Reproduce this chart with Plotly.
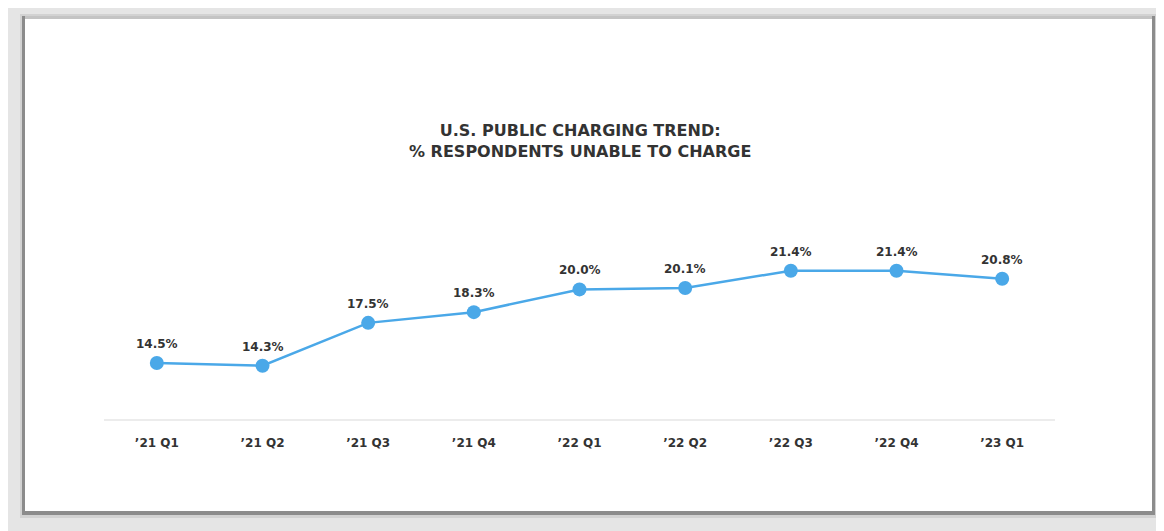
import plotly.graph_objects as go

categories = ["’21 Q1", "’21 Q2", "’21 Q3", "’21 Q4", "’22 Q1", "’22 Q2", "’22 Q3", "’22 Q4", "’23 Q1"]
values = [14.5, 14.3, 17.5, 18.3, 20.0, 20.1, 21.4, 21.4, 20.8]
title_lines = ["U.S. PUBLIC CHARGING TREND:", "% RESPONDENTS UNABLE TO CHARGE"]

W, H = 1164, 531
OFF = 8  # page body margin
BLUE = "#4aa8e8"
TXT = "#333333"
FONT = "DejaVu Sans"


def px(x):
    return (x - OFF) / W


def py(y):
    return 1 - (y - OFF) / H


fig = go.Figure()
fig.add_trace(go.Scatter(
    x=categories, y=values, mode="lines+markers",
    line=dict(color=BLUE, width=2.5),
    marker=dict(color=BLUE, size=14),
    hoverinfo="skip", showlegend=False,
))

annotations = []
for c, v in zip(categories, values):
    annotations.append(dict(
        x=c, y=v, xref="x", yref="y", text=f"<b>{v:.1f}%</b>", showarrow=False,
        yshift=19, font=dict(family=FONT, size=12, color=TXT),
    ))
annotations.append(dict(
    x=px(580), y=py(141), xref="paper", yref="paper",
    text="<b>" + "<br>".join(title_lines) + "</b>", showarrow=False,
    font=dict(family=FONT, size=16, color=TXT), align="center",
    xanchor="center", yanchor="middle",
))

shapes = [
    # soft shadow
    dict(type="rect", xref="paper", yref="paper", x0=px(20), x1=px(1158), y0=py(14), y1=py(518),
         fillcolor="#d2d2d2", line_width=0, layer="below"),
    # dark frame
    dict(type="rect", xref="paper", yref="paper", x0=px(22), x1=px(1155), y0=py(16), y1=py(515),
         fillcolor="#8c8c8c", line_width=0, layer="below"),
    # lighter top edge
    dict(type="rect", xref="paper", yref="paper", x0=px(25), x1=px(1152), y0=py(16), y1=py(19),
         fillcolor="#c4c4c4", line_width=0, layer="below"),
    # white card
    dict(type="rect", xref="paper", yref="paper", x0=px(25), x1=px(1152), y0=py(19), y1=py(511),
         fillcolor="#ffffff", line_width=0, layer="below"),
]

y_bottom_px, y_top_px = 419, 219
slope = 13.38
y0 = 14.5 - (y_bottom_px - 363) / slope
y1 = 14.5 + (363 - y_top_px) / slope

fig.update_layout(
    width=W, height=H,
    margin=dict(l=0, r=0, t=0, b=0),
    paper_bgcolor="#e5e5e5",
    plot_bgcolor="rgba(0,0,0,0)",
    shapes=shapes,
    annotations=annotations,
    xaxis=dict(
        domain=[px(104), px(1055)], range=[-0.5, 8.5], type="category",
        showgrid=False, zeroline=False, showline=True, linecolor="#ececec", linewidth=1.5,
        ticks="", tickfont=dict(family=FONT, size=12, color=TXT), ticklabelstandoff=12,
        tickvals=categories, ticktext=[f"<b>{c}</b>" for c in categories],
        fixedrange=True,
    ),
    yaxis=dict(
        domain=[py(y_bottom_px), py(y_top_px)], range=[y0, y1],
        showgrid=False, zeroline=False, showline=False, showticklabels=False, ticks="",
        fixedrange=True,
    ),
)

fig.write_html("out.html")
